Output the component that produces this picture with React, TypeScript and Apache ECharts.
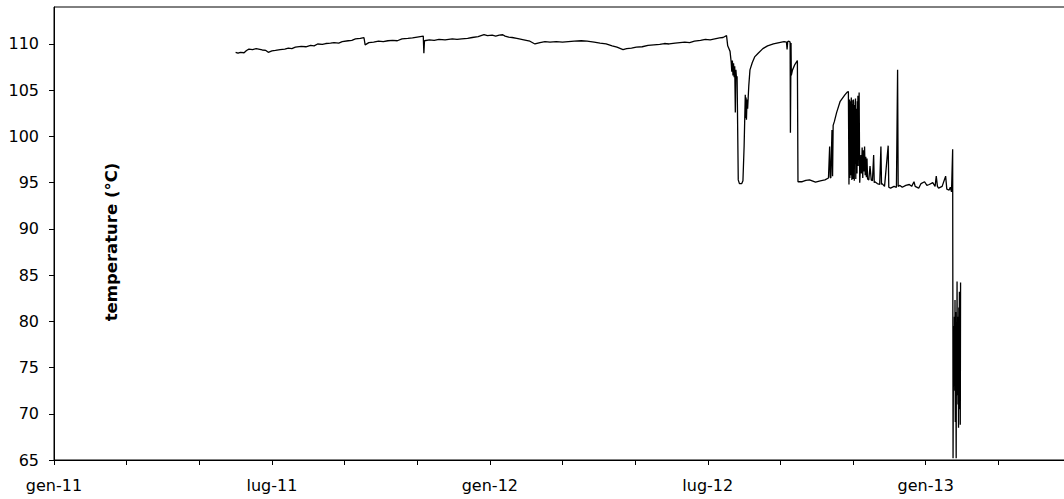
import React, { useEffect, useRef } from "react";
import * as echarts from "echarts";

// Reading dates ("YYYY-MM-DD" or "YYYY-MM-DD HH:mm") and temperatures (°C)
const stablePeriod: [string, number][] = [
  ["2011-06-01", 109.1], ["2011-06-03", 109.0], ["2011-06-05", 109.1], ["2011-06-08", 109.05],
  ["2011-06-10", 109.3], ["2011-06-12", 109.45], ["2011-06-15", 109.4], ["2011-06-18", 109.5],
  ["2011-06-20", 109.45], ["2011-06-23", 109.35], ["2011-06-26", 109.3], ["2011-06-28", 109.1],
  ["2011-07-01", 109.25], ["2011-07-04", 109.3], ["2011-07-08", 109.4], ["2011-07-12", 109.45],
  ["2011-07-15", 109.55], ["2011-07-18", 109.5], ["2011-07-21", 109.65], ["2011-07-26", 109.75],
  ["2011-07-30", 109.7], ["2011-08-03", 109.85], ["2011-08-06", 109.8], ["2011-08-09", 110.0],
  ["2011-08-13", 109.95], ["2011-08-16", 110.05], ["2011-08-20", 110.1], ["2011-08-23", 110.15],
  ["2011-08-27", 110.1], ["2011-08-30", 110.25], ["2011-09-04", 110.35], ["2011-09-07", 110.4],
  ["2011-09-10", 110.55], ["2011-09-14", 110.6], ["2011-09-17", 110.7], ["2011-09-18", 109.9],
  ["2011-09-21", 110.15], ["2011-09-25", 110.2], ["2011-09-29", 110.3], ["2011-10-03", 110.25],
  ["2011-10-07", 110.35], ["2011-10-11", 110.4], ["2011-10-15", 110.35], ["2011-10-19", 110.55],
  ["2011-10-24", 110.6], ["2011-10-28", 110.65], ["2011-11-01", 110.75], ["2011-11-06", 110.85],
  ["2011-11-06 12:00", 109.0], ["2011-11-07", 110.35], ["2011-11-11", 110.45], ["2011-11-15", 110.4],
  ["2011-11-19", 110.5], ["2011-11-24", 110.45], ["2011-11-30", 110.55], ["2011-12-04", 110.5],
  ["2011-12-08", 110.55], ["2011-12-13", 110.6], ["2011-12-17", 110.7], ["2011-12-22", 110.8],
  ["2011-12-27", 111.0], ["2011-12-30", 110.9], ["2012-01-03", 110.95], ["2012-01-06", 110.85],
  ["2012-01-09", 110.95], ["2012-01-12", 111.0], ["2012-01-14", 110.85], ["2012-01-17", 110.75],
  ["2012-01-20", 110.7], ["2012-01-24", 110.6], ["2012-01-28", 110.5], ["2012-02-01", 110.4],
  ["2012-02-04", 110.3], ["2012-02-08", 110.0], ["2012-02-12", 110.15], ["2012-02-16", 110.25],
  ["2012-02-20", 110.2], ["2012-02-25", 110.25], ["2012-03-01", 110.2], ["2012-03-06", 110.25],
  ["2012-03-11", 110.3], ["2012-03-17", 110.35], ["2012-03-22", 110.3], ["2012-03-28", 110.2],
  ["2012-04-02", 110.1], ["2012-04-07", 110.0], ["2012-04-12", 109.8], ["2012-04-16", 109.65],
  ["2012-04-19", 109.5], ["2012-04-21", 109.4], ["2012-04-24", 109.5], ["2012-04-28", 109.55],
  ["2012-05-02", 109.65], ["2012-05-07", 109.7], ["2012-05-12", 109.85], ["2012-05-17", 109.9],
  ["2012-05-22", 109.95], ["2012-05-26", 110.05], ["2012-05-30", 110.0], ["2012-06-04", 110.1],
  ["2012-06-08", 110.15], ["2012-06-12", 110.2], ["2012-06-16", 110.15], ["2012-06-20", 110.3],
  ["2012-06-25", 110.4], ["2012-06-29", 110.5], ["2012-07-03", 110.45], ["2012-07-07", 110.55],
  ["2012-07-11", 110.65], ["2012-07-14", 110.7], ["2012-07-17", 110.9],
];

const disturbedPeriod: [string, number][] = [
  ["2012-07-18", 109.8], ["2012-07-19", 109.5], ["2012-07-20", 109.2], ["2012-07-21", 108.0],
  ["2012-07-21 12:00", 107.0], ["2012-07-22", 108.2], ["2012-07-22 12:00", 106.6], ["2012-07-23", 107.9],
  ["2012-07-23 12:00", 106.4], ["2012-07-24", 107.6], ["2012-07-24 12:00", 102.6], ["2012-07-25", 107.2],
  ["2012-07-25 12:00", 106.3], ["2012-07-26", 106.5], ["2012-07-27", 95.3], ["2012-07-28", 94.9],
  ["2012-07-30", 94.9], ["2012-07-31", 95.2], ["2012-08-01", 98.9], ["2012-08-02", 104.5],
  ["2012-08-02 08:00", 102.0], ["2012-08-02 16:00", 104.2], ["2012-08-03", 101.8], ["2012-08-03 12:00", 104.0],
  ["2012-08-04", 103.0], ["2012-08-05", 105.5], ["2012-08-06", 107.2], ["2012-08-08", 108.0],
  ["2012-08-10", 108.6], ["2012-08-13", 109.0], ["2012-08-17", 109.5], ["2012-08-21", 109.8],
  ["2012-08-26", 110.0], ["2012-08-31", 110.15], ["2012-09-04", 110.25], ["2012-09-06", 110.2],
  ["2012-09-06 12:00", 109.4], ["2012-09-07", 110.25], ["2012-09-08", 110.3], ["2012-09-09", 110.2],
  ["2012-09-09 06:00", 100.4], ["2012-09-09 18:00", 110.1], ["2012-09-10", 106.6], ["2012-09-11", 107.2],
  ["2012-09-13", 107.8], ["2012-09-15", 108.2], ["2012-09-15 12:00", 95.1], ["2012-09-19", 95.1],
  ["2012-09-22", 95.25], ["2012-09-25", 95.3], ["2012-09-30", 95.05], ["2012-10-04", 95.2],
  ["2012-10-08", 95.3], ["2012-10-11", 95.5], ["2012-10-12", 98.9], ["2012-10-12 12:00", 95.6],
  ["2012-10-13", 95.5], ["2012-10-14", 100.7], ["2012-10-14 12:00", 95.7], ["2012-10-15", 101.2],
  ["2012-10-16", 101.6], ["2012-10-18", 102.6], ["2012-10-21", 103.8], ["2012-10-25", 104.5],
  ["2012-10-27", 104.8], ["2012-10-28", 104.85], ["2012-10-28 12:00", 94.8],
  ["2012-10-29 00:00", 104.0], ["2012-10-29 06:00", 95.5], ["2012-10-29 12:00", 103.6], ["2012-10-29 18:00", 96.2],
  ["2012-10-30 00:00", 103.8], ["2012-10-30 06:00", 95.8], ["2012-10-30 12:00", 104.2], ["2012-10-30 18:00", 97.0],
  ["2012-10-31 00:00", 95.3], ["2012-10-31 06:00", 103.5], ["2012-10-31 12:00", 96.5], ["2012-10-31 18:00", 103.9],
  ["2012-11-01 00:00", 95.4], ["2012-11-01 06:00", 104.0], ["2012-11-01 12:00", 95.6], ["2012-11-01 18:00", 103.4],
  ["2012-11-02 00:00", 95.2], ["2012-11-02 06:00", 102.8], ["2012-11-02 12:00", 97.0], ["2012-11-02 18:00", 103.6],
  ["2012-11-03 00:00", 104.1], ["2012-11-03 06:00", 95.4], ["2012-11-03 12:00", 102.5], ["2012-11-03 18:00", 96.2],
  ["2012-11-04 00:00", 103.0], ["2012-11-04 06:00", 96.0], ["2012-11-04 12:00", 103.8], ["2012-11-04 18:00", 97.5],
  ["2012-11-05 00:00", 104.4], ["2012-11-05 06:00", 96.8], ["2012-11-05 12:00", 103.2], ["2012-11-05 18:00", 97.5],
  ["2012-11-06", 104.75], ["2012-11-06 12:00", 95.0], ["2012-11-07", 96.5], ["2012-11-07 12:00", 98.0],
  ["2012-11-08", 96.0], ["2012-11-08 12:00", 98.8], ["2012-11-09", 95.5], ["2012-11-09 12:00", 98.5],
  ["2012-11-10", 96.2], ["2012-11-10 12:00", 98.9], ["2012-11-11", 95.8], ["2012-11-11 12:00", 97.8],
  ["2012-11-12", 95.6], ["2012-11-12 12:00", 97.6], ["2012-11-13", 95.4], ["2012-11-14", 95.3],
  ["2012-11-15", 96.8], ["2012-11-16", 95.3], ["2012-11-17", 95.2], ["2012-11-18", 98.0],
  ["2012-11-18 12:00", 95.0], ["2012-11-19", 95.1], ["2012-11-21", 94.9], ["2012-11-23", 94.8],
  ["2012-11-24", 98.9], ["2012-11-24 12:00", 94.8], ["2012-11-25", 94.9], ["2012-11-27", 94.6],
  ["2012-11-30", 99.0], ["2012-11-30 12:00", 94.5], ["2012-12-02", 94.4], ["2012-12-05", 94.6],
  ["2012-12-07", 94.5], ["2012-12-08", 107.2], ["2012-12-08 12:00", 94.6], ["2012-12-10", 94.7],
  ["2012-12-12", 94.5], ["2012-12-15", 94.7], ["2012-12-18", 94.8], ["2012-12-20", 94.6],
  ["2012-12-22", 95.1], ["2012-12-23", 94.6], ["2012-12-26", 94.4], ["2012-12-28", 94.9],
  ["2012-12-31", 95.1], ["2013-01-02", 94.7], ["2013-01-04", 94.8], ["2013-01-07", 95.0],
  ["2013-01-09", 94.6], ["2013-01-10", 95.7], ["2013-01-11", 94.6], ["2013-01-12", 94.4],
  ["2013-01-15", 94.6], ["2013-01-18", 95.7], ["2013-01-19", 94.3], ["2013-01-21", 94.2],
  ["2013-01-22", 94.5], ["2013-01-23", 94.0],
];

const failurePeriod: [string, number][] = [
  ["2013-01-24 00:00", 98.6], ["2013-01-24 08:00", 65.2], ["2013-01-24 16:00", 76.2],
  ["2013-01-25 00:00", 79.5], ["2013-01-25 06:00", 73.0], ["2013-01-25 12:00", 80.5], ["2013-01-25 18:00", 72.5],
  ["2013-01-26 00:00", 82.3], ["2013-01-26 06:00", 69.1], ["2013-01-26 12:00", 81.0], ["2013-01-26 18:00", 73.5],
  ["2013-01-27 00:00", 65.2], ["2013-01-27 06:00", 79.0], ["2013-01-27 12:00", 72.0], ["2013-01-27 18:00", 84.3],
  ["2013-01-28 00:00", 74.0], ["2013-01-28 06:00", 79.4], ["2013-01-28 12:00", 71.0], ["2013-01-28 18:00", 80.5],
  ["2013-01-29 00:00", 68.5], ["2013-01-29 06:00", 81.5], ["2013-01-29 12:00", 72.0], ["2013-01-29 18:00", 83.2],
  ["2013-01-30 00:00", 70.5], ["2013-01-30 06:00", 82.0], ["2013-01-30 12:00", 68.8], ["2013-01-30 18:00", 84.2],
];

const monthNames = ["gen", "feb", "mar", "apr", "mag", "giu", "lug", "ago", "set", "ott", "nov", "dic"];
const xStartYear = 2011;
const xMaxMonths = 28; // gen-11 .. mag-13
const xTickMonths = [0, 2, 4, 6, 8, 10, 12, 14, 16, 18, 20, 22, 24, 26, 28];
const xLabelMonths = [0, 6, 12, 18, 24];
const yTicks = [65, 70, 75, 80, 85, 90, 95, 100, 105, 110];
const yMin = 65;
const yMax = 114;
const yAxisTitle = "temperature (°C)";

function toMonths(s: string): number {
  const [d, t] = s.split(" ");
  const [y, m, day] = d.split("-").map(Number);
  const h = t ? Number(t.split(":")[0]) : 0;
  const dim = new Date(Date.UTC(y, m, 0)).getUTCDate();
  return (y - xStartYear) * 12 + (m - 1) + (day - 1 + h / 24) / dim;
}

function monthLabel(v: number): string {
  const idx = Math.round(v);
  const yy = (xStartYear + Math.floor(idx / 12)) % 100;
  return `${monthNames[idx % 12]}-${String(yy).padStart(2, "0")}`;
}

const labelFont = "DejaVu Sans, Verdana, sans-serif";

export default function App() {
  const ref = useRef<HTMLDivElement>(null);
  useEffect(() => {
    document.body.style.overflow = "hidden";
    if (!ref.current) return;
    const chart = echarts.init(ref.current, undefined, { renderer: "svg" });
    const all = [...stablePeriod, ...disturbedPeriod, ...failurePeriod];
    const data = all.map(([d, v]) => [toMonths(d), v]);
    chart.setOption({
      animation: false,
      backgroundColor: "#ffffff",
      grid: {
        left: 54,
        top: 7,
        width: 1017,
        height: 453,
        show: true,
        borderColor: "#000",
        borderWidth: 1,
        backgroundColor: "transparent",
      },
      xAxis: {
        type: "value",
        min: 0,
        max: xMaxMonths,
        axisLine: { show: true, lineStyle: { color: "#000", width: 1 } },
        axisTick: { show: true, length: 5, customValues: xTickMonths, lineStyle: { color: "#000" } },
        axisLabel: {
          customValues: xLabelMonths,
          formatter: (v: number) => monthLabel(v),
          color: "#000",
          fontFamily: labelFont,
          fontSize: 16,
          margin: 17,
        },
        splitLine: { show: false },
      },
      yAxis: {
        type: "value",
        min: yMin,
        max: yMax,
        axisLine: { show: true, lineStyle: { color: "#000", width: 1 } },
        axisTick: { show: true, length: 5, customValues: yTicks, lineStyle: { color: "#000" } },
        axisLabel: {
          customValues: yTicks,
          color: "#000",
          fontFamily: labelFont,
          fontSize: 16,
          margin: 15,
        },
        splitLine: { show: false },
      },
      graphic: [
        {
          type: "text",
          x: 111,
          y: 242,
          rotation: Math.PI / 2,
          style: {
            text: yAxisTitle,
            font: "bold 16.5px 'DejaVu Sans', Verdana, sans-serif",
            fill: "#000",
            align: "center",
            verticalAlign: "middle",
          },
        },
      ],
      series: [
        {
          type: "line",
          data,
          showSymbol: false,
          symbol: "none",
          clip: true,
          lineStyle: { color: "#000", width: 1.3 },
        },
      ],
    });
    return () => chart.dispose();
  }, []);
  return (
    <div
      ref={ref}
      style={{ position: "fixed", left: 0, top: 0, width: 1100, height: 499, background: "#fff" }}
    />
  );
}
